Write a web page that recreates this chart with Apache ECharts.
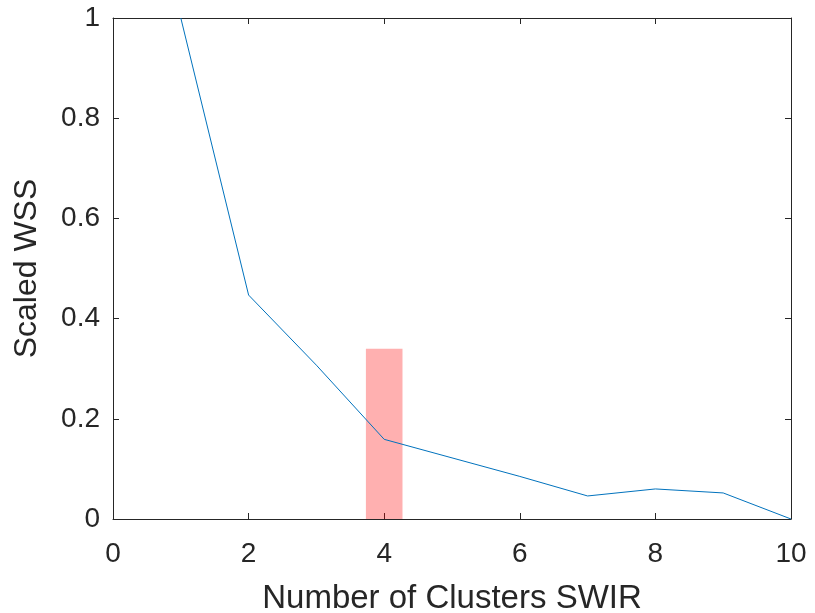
<!DOCTYPE html>
<html><head><meta charset="utf-8">
<script src="https://cdn.jsdelivr.net/npm/echarts@6/dist/echarts.min.js"></script>
<style>html,body{margin:0;padding:0;background:#fff}#c{width:815px;height:613px}</style>
</head><body><div id="c"></div>
<script>
const clusters = [1, 2, 3, 4, 5, 6, 7, 8, 9, 10];
const scaledWSS = [1.0, 0.447, 0.307, 0.159, 0.122, 0.085, 0.046, 0.060, 0.052, 0.0];
const highlightX = [3.73, 4.27];
const highlightTop = 0.34;
const xTicks = [0, 2, 4, 6, 8, 10];
const yTicks = [0, 0.2, 0.4, 0.6, 0.8, 1];

const font = '"Liberation Sans", Arial, sans-serif';
const axisCol = '#262626';
const chart = echarts.init(document.getElementById('c'), null, {renderer: 'canvas'});
const common = {
  axisLine: {show: true, onZero: false, lineStyle: {color: axisCol, width: 1}},
  axisTick: {show: true, inside: true, length: 6, lineStyle: {color: axisCol}},
  splitLine: {show: false}
};
chart.setOption({
  animation: false,
  backgroundColor: '#fff',
  grid: {left: 113, right: 24, top: 18, bottom: 94, containLabel: false, outerBoundsMode: 'none'},
  xAxis: [
    Object.assign({type: 'value', min: xTicks[0], max: xTicks[xTicks.length-1], interval: 2, position: 'bottom',
      name: 'Number of Clusters SWIR', nameLocation: 'middle', nameGap: 63,
      nameTextStyle: {fontFamily: font, fontSize: 33, color: axisCol},
      axisLabel: {fontFamily: font, fontSize: 28, color: axisCol, margin: 21}}, common),
    Object.assign({type: 'value', min: xTicks[0], max: xTicks[xTicks.length-1], interval: 2, position: 'top',
      axisLabel: {show: false}}, common)
  ],
  yAxis: [
    Object.assign({type: 'value', min: yTicks[0], max: yTicks[yTicks.length-1], interval: 0.2, position: 'left',
      name: 'Scaled WSS', nameLocation: 'middle', nameGap: 70, nameRotate: 90,
      nameTextStyle: {fontFamily: font, fontSize: 32, color: axisCol},
      axisLabel: {fontFamily: font, fontSize: 28, color: axisCol, margin: 13,
        formatter: v => String(Math.round(v*10)/10)}}, common),
    Object.assign({type: 'value', min: yTicks[0], max: yTicks[yTicks.length-1], interval: 0.2, position: 'right',
      axisLabel: {show: false}}, common)
  ],
  series: [
    {type: 'line', data: clusters.map((c, i) => [c, scaledWSS[i]]), showSymbol: false, symbol: 'none',
      lineStyle: {color: '#0072BD', width: 1}, z: 2, clip: true},
    {type: 'line', data: [], z: 5,
      markArea: {silent: true, itemStyle: {color: 'rgba(255,0,0,0.31)'},
        data: [[{coord: [highlightX[0], 0]}, {coord: [highlightX[1], highlightTop]}]]}}
  ]
});
</script></body></html>
